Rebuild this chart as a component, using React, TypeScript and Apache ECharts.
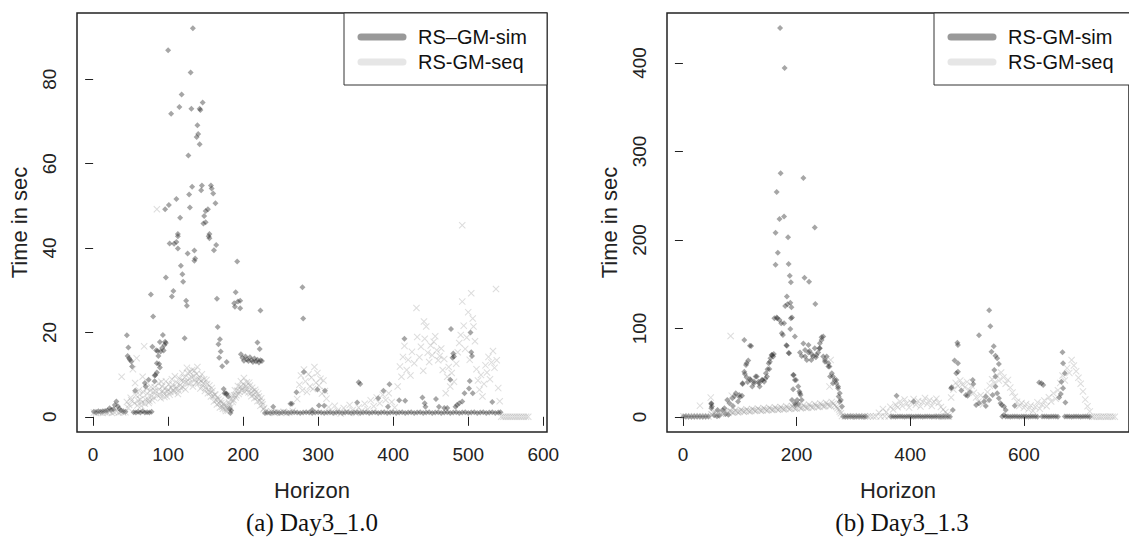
import React, { useEffect, useRef } from "react";
import * as echarts from "echarts";

// ---------------- DATA ----------------
const xTicksA = [0, 100, 200, 300, 400, 500, 600];
const yTicksA = [0, 20, 40, 60, 80];
const xTicksB = [0, 200, 400, 600];
const yTicksB = [0, 100, 200, 300, 400];

const captionA = "(a) Day3_1.0";
const captionB = "(b) Day3_1.3";
const legendA = ["RS\u2013GM-sim", "RS-GM-seq"];
const legendB = ["RS-GM-sim", "RS-GM-seq"];

// Day3_1.0 — RS-GM-sim  [horizon, seconds]
const simA: [number, number][] = [
  [1,1.2],[4,1.1],[7,1.3],[10,1.2],[13,1.3],[16,1.4],[19,1.5],[22,2.0],[24,1.6],[27,1.8],[29,2.8],[31,3.6],[33,2.5],[35,1.9],[37,1.5],[40,1.3],[43,1.2],
  [45,19.3],[46,14.4],[47,16.4],[48,13.9],[49,13.5],[51,13.1],[52,11.9],
  [54,1.1],[56,6.2],[57,1.0],[60,1.2],[63,1.0],[66,1.3],[69,1.0],[69,8.0],[70,7.2],[72,1.1],[74,8.8],[75,1.0],[78,1.2],
  [77,29.0],[80,23.8],[79,16.6],[82,9.8],[82,8.4],[83,9.9],[84,15.8],[85,10.5],[85,12.7],[86,15.6],[87,14.4],[88,12.5],[89,11.7],[89,17.7],[90,15.5],[92,16.3],[93,19.4],[94,15.7],[95,17.0],[96,17.8],[97,17.5],[97,33.0],
  [96,49.2],[100,86.9],[101,50.2],[102,41.1],[104,71.8],[105,28.5],[107,29.8],[108,41.0],[111,41.4],[111,51.6],[113,42.8],[113,39.9],[113,43.3],[115,73.4],[116,47.2],[117,35.8],[118,76.4],[119,33.8],[120,32.0],[122,18.6],[124,27.5],[125,26.3],[126,38.7],[127,61.9],[128,52.7],[129,49.6],[130,81.6],[131,73.0],[132,54.5],[133,92.1],[135,39.4],[135,37.0],[136,37.5],[138,66.3],[139,69.1],[140,67.0],[142,73.0],[142,64.6],[143,72.7],[144,53.7],[145,54.8],[146,74.5],[147,45.8],[148,47.6],[150,48.8],[150,46.1],[153,49.2],[154,42.8],[155,42.3],[155,43.3],[157,54.8],[158,54.1],[160,52.9],[161,39.5],[163,50.6],[164,40.7],[165,28.0],[166,21.3],[167,17.2],[168,14.0],[169,18.4],[170,15.5],[172,12.0],[174,6.6],[175,5.6],[177,5.6],[178,13.0],[178,5.4],[180,4.8],[182,1.9],[183,0.9],[184,1.5],
  [188,26.9],[189,26.1],[190,29.5],[192,36.8],[193,27.3],[196,25.7],[196,27.5],[197,14.8],[199,14.0],[201,13.3],[203,14.3],[205,13.6],[207,13.2],[209,14.1],[211,13.4],[213,13.0],[215,13.8],[217,13.1],[219,13.5],[219,17.6],[221,12.9],[222,16.1],[223,25.2],[223,13.4],[225,13.2],[229,0.9],
  [232,1.0],[236,0.9],[240,2.4],[240,1.0],[244,1.1],[248,0.9],[252,1.0],[256,1.1],[260,0.9],[263,3.1],[264,1.0],[265,3.1],[268,1.1],[271,5.8],[272,1.0],[276,0.9],[279,30.7],[280,23.3],[281,10.6],[280,1.0],[284,1.1],[288,1.0],[292,1.6],[292,0.9],[296,1.0],[299,6.5],[300,1.1],[301,2.7],[304,1.0],[308,2.6],[309,6.2],[308,0.9],[312,1.0],[316,1.1],[320,0.9],[324,1.0],[328,1.1],[332,0.9],[336,1.0],[340,1.1],[344,0.9],[348,1.0],[352,3.4],[352,1.1],[354,8.2],[356,7.8],[356,0.9],[360,1.0],[364,1.1],[368,0.9],[372,1.0],[376,1.1],[380,4.4],[380,0.9],[384,1.0],[387,6.2],[388,1.1],[392,0.9],[393,2.4],[395,7.7],[396,1.0],[400,1.1],[404,0.9],[408,3.9],[408,1.0],[412,1.1],[415,18.5],[416,3.8],[416,0.9],[420,1.0],[424,1.1],[428,0.9],[432,1.0],[436,1.1],[439,4.6],[440,0.9],[442,3.2],[443,2.4],[444,1.0],[448,1.1],[452,0.9],[456,1.0],[457,4.2],[460,1.1],[461,2.4],[464,0.9],[468,2.1],[468,1.0],[472,2.1],[472,1.1],[476,8.8],[476,0.9],[477,20.8],[479,14.0],[480,15.0],[481,14.3],[480,1.0],[483,2.4],[484,1.1],[485,2.8],[488,3.2],[488,0.9],[492,3.6],[492,1.0],[495,5.6],[496,1.1],[500,0.9],[501,6.7],[502,8.5],[503,20.0],[504,15.3],[505,14.4],[504,1.0],[506,5.6],[508,1.1],[512,0.9],[516,1.0],[520,1.1],[524,0.9],[528,1.0],[532,3.5],[532,1.1],[536,0.9],[540,1.0],[543,1.1],
];

// Day3_1.0 — RS-GM-seq
const seqA: [number, number][] = [
  [1,1.0],[4,0.9],[7,1.1],[10,1.0],[13,0.9],[16,1.1],[19,1.0],[22,1.2],[25,0.9],[28,1.1],[31,1.3],[34,1.0],[37,1.2],[38,9.5],[40,1.0],[43,1.1],
  [45,3.5],[48,2.8],[50,4.5],[53,11.3],[55,3.2],[56,8.0],[58,13.9],[60,3.8],[62,5.2],[64,2.6],[66,9.5],[68,16.7],[70,4.1],[72,5.5],[74,3.3],[76,6.2],[78,4.8],[80,5.9],[82,7.0],[85,49.2],[86,5.1],[88,6.5],[90,4.4],[92,7.2],[94,5.6],[96,6.8],[98,4.9],[100,6.4],[102,5.2],[104,6.9],[106,7.6],[108,5.8],[110,6.6],[112,8.1],[114,6.2],[116,7.5],[118,8.6],[120,7.0],[122,9.3],[124,8.2],[126,10.4],[128,9.1],[130,8.1],[132,11.1],[134,9.6],[136,8.8],[138,10.2],[140,7.9],[142,9.4],[144,8.5],[146,7.3],[148,8.9],[150,6.9],[152,7.8],[154,6.4],[156,5.7],[158,6.8],[160,4.9],[162,5.3],[164,3.9],[166,4.6],[168,3.2],[170,3.8],[172,2.4],[174,3.1],[176,1.8],[178,2.6],[180,1.5],[182,2.9],[184,4.2],[186,3.5],[188,5.1],[190,4.6],[192,6.2],[194,5.4],[196,7.1],[198,6.3],[200,7.7],[202,5.9],[204,7.3],[206,6.5],[208,8.1],[210,5.6],[212,6.9],[214,5.2],[216,6.4],[218,4.6],[220,5.5],[222,3.8],[224,4.4],[226,2.9],[228,2.1],
  [47,2.1],[51,3.9],[57,5.1],[59,2.7],[61,6.3],[63,4.1],[65,3.4],[67,5.8],[69,3.1],[71,6.8],[73,4.2],[75,3.7],[77,7.1],[79,3.9],[81,4.6],[83,6.1],[87,7.9],[89,5.2],[91,8.3],[93,6.1],[95,4.7],[97,8.4],[99,6.0],[101,7.7],[103,5.9],[105,8.9],[107,6.3],[109,9.6],[111,7.1],[113,5.4],[115,9.1],[117,6.8],[119,10.3],[121,8.4],[123,6.5],[125,11.6],[127,7.9],[129,10.6],[131,9.4],[133,7.2],[135,10.9],[137,8.1],[139,11.8],[141,8.9],[143,6.7],[145,10.1],[147,8.0],[149,6.1],[151,8.7],[153,5.6],[155,7.4],[157,4.8],[159,6.1],[161,3.6],[163,5.2],[165,2.9],[167,4.1],[169,2.2],[171,3.3],[173,1.9],[175,2.7],[177,1.4],[179,2.0],[181,3.4],[183,2.2],[185,5.0],[187,4.0],[189,6.3],[191,5.1],[193,7.3],[195,6.0],[197,8.4],[199,6.8],[201,9.2],[203,6.6],[205,8.2],[207,5.8],[209,7.4],[211,4.9],[213,6.1],[215,4.4],[217,5.9],[219,3.7],[221,4.8],[223,2.6],[225,3.5],[227,1.8],
  [230,1.3],[234,1.0],[238,1.2],[242,0.9],[246,1.1],[250,1.0],[254,1.2],[258,0.9],[262,1.1],[266,1.4],
  [272,4.2],[275,7.6],[277,9.8],[279,6.3],[281,11.2],[283,8.4],[285,5.9],[287,10.1],[289,7.2],[291,9.3],[293,6.6],[295,11.8],[297,8.1],[299,10.4],[301,7.4],[303,9.0],[305,5.5],[307,8.6],[309,6.1],[311,4.3],
  [314,2.3],[318,1.1],[322,2.6],[326,1.5],[330,0.8],[334,2.1],[338,1.2],[342,2.8],[346,1.6],[350,0.9],[354,2.2],[358,1.4],[362,3.1],[366,1.8],[370,3.9],[374,2.5],[378,4.6],[382,3.2],[386,5.2],[390,4.0],[394,5.6],[398,3.5],[402,2.2],
  [406,7.2],[409,11.9],[411,9.5],[413,14.2],[415,16.8],[418,11.1],[420,13.5],[423,9.8],[425,15.4],[428,12.7],[431,25.8],[432,18.9],[435,14.1],[437,16.6],[440,10.9],[441,22.6],[442,18.5],[444,21.4],[446,15.2],[448,13.0],[450,16.9],[452,14.6],[454,17.8],[456,19.1],[458,15.8],[460,13.4],[462,14.4],[464,16.2],[466,11.1],[468,13.7],[470,5.6],[472,9.5],[474,11.8],[476,7.2],[478,10.4],[481,8.3],[484,12.6],[486,15.3],[488,17.5],[490,19.4],[492,27.3],[492,45.4],[494,21.6],[496,16.1],[498,18.8],[500,24.8],[502,13.5],[504,29.3],[506,23.3],[507,21.4],[509,17.9],[511,11.3],[513,8.6],[515,6.4],[517,9.9],[519,4.8],[521,7.8],[523,12.2],[525,10.5],[527,14.2],[529,8.9],[531,12.9],[533,15.6],[535,11.6],[537,30.3],[538,13.4],[540,6.8],[542,3.7],
  [544,0],[547,0],[550,0],[553,0],[556,0],[559,0],[562,0],[565,0],[568,0],[571,0],[574,0],[577,0],[580,0],
];

// Day3_1.3 — RS-GM-sim
const simB: [number, number][] = [
  [1,0.5],[5,0.4],[10,0.6],[15,0.3],[20,0.5],[25,0.4],[30,0.6],[35,0.3],[40,0.5],[45,0.4],
  [50,15.5],[50,14.7],[51,11.7],[50,9.8],[55,2.0],[60,0.8],[61,7.9],[64,1.4],[70,7.6],[73,9.8],[75,3.3],[78,19.2],[80,2.5],[82,15.5],[87,21.1],[88,12.5],[91,23.8],[93,26.8],[97,17.4],[99,24.9],[100,22.2],[104,24.1],[105,38.0],[105,37.3],[108,51.2],[108,87.0],[109,48.6],[111,58.8],[112,60.6],[112,44.8],[114,39.6],[115,63.7],[118,43.0],[118,80.6],[119,41.8],[120,80.2],[122,34.3],[125,40.0],[125,38.0],[128,45.6],[130,45.6],[133,39.9],[134,38.0],[135,34.3],[139,41.8],[140,41.8],[143,39.9],[145,43.3],[146,49.4],[148,45.6],[149,53.9],[151,60.6],[152,54.2],[153,62.5],[154,66.3],[156,70.0],[157,70.0],[159,68.2],[160,71.2],[161,111.5],
  [163,208.3],[163,172.1],[165,254.3],[165,112.3],[166,111.5],[167,185.7],[170,223.8],[170,109.6],[171,439.6],[172,275.4],[173,105.8],[174,94.6],[176,92.7],[178,226.4],[178,105.9],[179,394.4],[180,125.4],[182,81.0],[183,136.0],[183,80.6],[184,127.5],[185,203.0],[186,172.9],[186,72.3],[187,72.0],[188,159.7],[189,129.2],[189,99.5],[190,152.2],[190,111.5],[191,124.0],[192,112.3],[192,19.2],[194,47.5],[194,31.3],[195,47.5],[197,41.8],[197,90.8],[197,15.5],[198,13.6],[199,41.8],[201,19.2],[203,34.3],[203,14.7],[205,28.7],[206,26.8],[206,72.9],[207,24.9],[209,69.0],[209,19.2],[212,270.1],[212,83.0],[214,157.4],[215,68.2],[215,75.7],[218,64.4],[221,81.4],[221,72.9],[222,152.9],[223,74.6],[226,64.4],[227,70.8],[229,68.2],[232,214.0],[232,77.6],[233,127.7],[234,67.4],[235,70.1],[238,72.9],[240,77.6],[241,83.3],[241,77.6],[244,90.0],[244,87.0],[247,68.2],[247,90.8],[250,62.5],[250,64.4],[253,68.2],[256,56.9],[256,60.7],[258,56.9],[259,45.6],[262,49.4],[264,45.6],[264,38.1],[267,41.8],[270,41.8],[270,38.1],[273,32.4],[273,34.3],[274,23.0],[276,17.3],[276,26.8],[278,19.3],[280,11.8],
  [282,0.5],[286,0.3],[290,0.6],[294,0.4],[298,0.5],[302,0.3],[306,0.6],[310,0.4],[314,0.5],[318,0.3],[322,0.5],
  [366,0.4],[370,0.6],[374,0.3],[376,24.1],[378,0.5],[382,0.4],[386,0.6],[390,0.3],[394,0.5],[398,0.4],[402,0.6],[406,17.4],[406,0.3],[410,0.5],[414,0.4],[418,0.6],[422,0.3],[426,0.5],[430,0.4],[434,0.6],[438,0.3],[442,0.5],[446,0.4],[450,0.6],[454,0.3],[458,0.5],[462,0.4],[466,0.6],[470,0.3],
  [472,32.4],[473,33.5],[475,7.9],[478,63.7],[481,49.4],[483,84.0],[484,81.4],[484,60.7],[484,51.2],[490,30.0],[498,24.9],[501,24.1],[505,28.0],[510,41.8],[511,37.3],[516,13.6],[521,15.5],[521,92.3],[530,17.4],[533,12.5],[533,23.0],[539,120.5],[539,19.2],[541,102.5],[543,73.8],[545,24.9],[547,79.9],[548,53.1],[550,69.3],[550,45.6],[550,34.3],[553,66.3],[553,26.8],[556,59.9],[556,21.1],[559,15.5],[561,13.6],[562,0.4],[565,11.7],[565,2.3],[568,8.0],[584,12.8],
  [568,0.4],[572,0.5],[576,0.3],[580,0.6],[584,0.4],[588,0.5],[592,0.3],[596,0.6],[600,0.4],[604,0.5],[608,0.3],[612,0.6],[616,0.4],[620,0.5],[624,0.3],[627,38.8],[631,38.1],[634,36.2],[632,0.6],[636,0.4],[640,0.5],[644,0.3],[648,0.6],[652,0.4],[656,0.5],[660,0.3],[662,22.0],[665,26.0],[666,39.9],[668,73.1],[669,60.7],[669,32.4],[672,49.4],[673,16.2],[672,0.5],[676,0.4],[680,0.6],[684,0.3],[688,0.5],[692,0.4],[696,0.6],[700,0.3],[704,0.5],[708,0.4],[712,0.6],[716,0.3],
];

// Day3_1.3 — RS-GM-seq
const seqB: [number, number][] = [
  [1,0.8],[5,0.6],[10,0.9],[15,0.7],[20,0.8],[25,0.6],[30,12.8],[30,0.9],[35,0.7],[40,0.8],[45,0.6],[49,21.9],
  [50,3.2],[55,4.1],[60,3.5],[65,5.0],[70,4.2],[75,5.6],[80,4.6],[84,91.5],[85,6.1],[86,24.1],[90,5.3],[95,6.2],[100,5.8],[105,7.0],[110,6.4],[115,7.1],[120,6.6],[125,7.8],[130,7.2],[135,8.0],[140,7.3],[145,8.6],[150,7.9],[155,8.8],[160,8.1],[165,9.4],[170,8.7],[175,9.6],[180,8.9],[185,10.3],[190,9.5],[195,10.6],[200,9.6],[205,11.2],[210,10.3],[215,11.5],[220,10.4],[225,12.2],[230,11.1],[235,12.7],[240,11.6],[245,13.4],[250,12.2],[255,14.1],[258,34.3],[260,64.4],[260,12.8],[265,15.2],[270,11.5],[275,8.4],[278,4.2],
  [52,2.4],[57,5.2],[62,4.4],[67,3.6],[72,6.1],[77,4.0],[82,7.0],[87,5.1],[92,7.3],[97,5.0],[102,8.1],[107,6.0],[112,8.6],[117,6.2],[122,9.0],[127,6.8],[132,9.5],[137,7.1],[142,10.1],[147,7.4],[152,10.4],[157,7.9],[162,11.0],[167,8.2],[172,11.3],[177,8.4],[182,12.0],[187,8.9],[192,12.4],[197,9.2],[202,12.9],[207,9.8],[212,13.2],[217,10.1],[222,14.0],[227,10.6],[232,14.6],[237,11.2],[242,15.3],[247,11.9],[252,16.1],[257,12.5],[262,17.0],[267,13.2],[272,9.8],[276,6.1],
  [280,1.0],[285,0.5],[290,0.8],[295,0.6],[300,0.9],[305,0.5],[310,0.7],[315,0.6],[320,0.9],[325,0.5],[330,0.8],[335,0.6],[340,0.7],[345,4.8],[348,0.5],[352,8.9],[355,0.8],[358,5.6],[362,0.6],[365,11.4],
  [370,8.5],[374,14.0],[378,11.0],[382,17.5],[386,12.3],[390,19.8],[394,15.1],[398,10.6],[402,16.4],[406,20.2],[410,13.8],[414,18.1],[418,11.9],[422,16.9],[426,21.4],[430,14.6],[434,18.8],[438,12.4],[442,17.3],[446,20.5],[450,15.7],[454,11.2],[458,8.3],[462,5.6],[466,3.1],[450,0.5],[456,0.3],[462,0.6],[468,0.4],
  [472,22.0],[476,31.0],[480,38.5],[484,35.0],[488,41.2],[492,36.8],[496,33.4],[500,39.6],[504,30.1],[508,35.3],[512,27.4],[516,22.1],[520,17.3],[524,24.6],[528,14.2],
  [532,19.5],[536,28.1],[540,35.4],[544,42.6],[548,38.2],[552,46.8],[556,41.1],[560,50.3],[564,44.7],[568,37.6],[572,41.9],[576,33.2],[580,27.5],[584,22.8],[588,17.1],[592,12.4],[596,15.8],
  [600,10.3],[604,14.7],[608,8.6],[612,12.9],[616,6.8],[620,11.2],[624,16.5],[628,9.4],[632,13.8],[636,18.6],[640,12.1],[644,22.3],[648,17.4],[652,26.8],[656,20.5],
  [660,30.2],[664,38.5],[668,46.9],[672,41.3],[676,55.2],[680,49.8],[684,64.4],[688,58.1],[692,51.6],[696,44.3],[700,37.5],[704,28.9],[708,19.6],[712,12.1],[716,6.3],
  [720,0.3],[724,0.2],[728,0.4],[732,0.3],[736,0.2],[740,0.4],[744,0.3],[748,0.2],[752,0.4],[756,0.3],[760,0.2],
];

// ---------------- STYLE ----------------
const SANS = '"Liberation Sans", Arial, Helvetica, sans-serif';
const SERIF = '"Liberation Serif", "Times New Roman", serif';
const CROSS = "path://M0,1L1,0L5,4L9,0L10,1L6,5L10,9L9,10L5,6L1,10L0,9L4,5Z";
const SIM_COLOR = "rgba(40,40,40,0.52)";
const SEQ_COLOR = "rgba(150,150,150,0.42)";

function xAxisFor(idx: number, min: number, max: number, ticks: number[]) {
  return {
    type: "value", gridIndex: idx, min, max,
    axisLine: { show: false },
    splitLine: { show: false },
    axisTick: { show: true, length: 9, customValues: ticks, lineStyle: { color: "#222", width: 1 } },
    axisLabel: { customValues: ticks, fontSize: 19, color: "#222", fontFamily: SANS, margin: 13 },
    name: "Horizon", nameLocation: "middle", nameGap: 47,
    nameTextStyle: { fontSize: 22, color: "#222", fontFamily: SANS },
  };
}
function yAxisFor(idx: number, min: number, max: number, ticks: number[]) {
  return {
    type: "value", gridIndex: idx, min, max,
    axisLine: { show: false },
    splitLine: { show: false },
    axisTick: { show: true, length: 8, customValues: ticks, lineStyle: { color: "#222", width: 1 } },
    axisLabel: { customValues: ticks, fontSize: 19, color: "#222", fontFamily: SANS, margin: 18, rotate: 90 },
    name: "Time in sec", nameLocation: "middle", nameGap: 47, nameRotate: 90,
    nameTextStyle: { fontSize: 22, color: "#222", fontFamily: SANS },
  };
}

function legendGraphic(x0: number, x1: number, labels: string[]) {
  return [
    { type: "rect", shape: { x: x0, y: 13, width: x1 - x0, height: 72 }, style: { fill: "#fff", stroke: "#333", lineWidth: 1 }, z: 10 },
    { type: "line", shape: { x1: x0 + 17, y1: 37, x2: x0 + 59, y2: 37 }, style: { stroke: "#999", lineWidth: 7, lineCap: "round" }, z: 11 },
    { type: "line", shape: { x1: x0 + 17, y1: 62, x2: x0 + 59, y2: 62 }, style: { stroke: "#e6e6e6", lineWidth: 7, lineCap: "round" }, z: 11 },
    { type: "text", x: x0 + 74, y: 37, style: { text: labels[0], font: `20px ${SANS}`, fill: "#111", verticalAlign: "middle" }, z: 11 },
    { type: "text", x: x0 + 74, y: 62, style: { text: labels[1], font: `20px ${SANS}`, fill: "#111", verticalAlign: "middle" }, z: 11 },
  ];
}

export default function App() {
  const ref = useRef<HTMLDivElement>(null);
  useEffect(() => {
    if (!ref.current) return;
    const chart = echarts.init(ref.current, undefined, { renderer: "svg" });
    chart.setOption({
      animation: false,
      backgroundColor: "#fff",
      grid: [
        { left: 77, top: 13, width: 470, height: 419, show: true, borderColor: "#222", borderWidth: 1.5 },
        { left: 667, top: 13, width: 470, height: 419, show: true, borderColor: "#222", borderWidth: 1.5 },
      ],
      xAxis: [xAxisFor(0, -21.5, 605, xTicksA), xAxisFor(1, -28, 785, xTicksB)],
      yAxis: [yAxisFor(0, -3.6, 95.7, yTicksA), yAxisFor(1, -17, 456.5, yTicksB)],
      series: [
        { type: "scatter", name: "simA", xAxisIndex: 0, yAxisIndex: 0, data: simA, symbol: "diamond", symbolSize: 6, itemStyle: { color: SIM_COLOR } },
        { type: "scatter", name: "seqA", xAxisIndex: 0, yAxisIndex: 0, data: seqA, symbol: CROSS, symbolSize: 7, itemStyle: { color: SEQ_COLOR } },
        { type: "scatter", name: "simB", xAxisIndex: 1, yAxisIndex: 1, data: simB, symbol: "diamond", symbolSize: 6, itemStyle: { color: SIM_COLOR } },
        { type: "scatter", name: "seqB", xAxisIndex: 1, yAxisIndex: 1, data: seqB, symbol: CROSS, symbolSize: 7, itemStyle: { color: SEQ_COLOR } },
      ],
      graphic: [
        ...legendGraphic(344, 547, legendA),
        ...legendGraphic(934, 1137, legendB),
        { type: "text", x: 312, y: 522, style: { text: captionA, font: `25px ${SERIF}`, fill: "#111", align: "center", verticalAlign: "middle" } },
        { type: "text", x: 902, y: 522, style: { text: captionB, font: `25px ${SERIF}`, fill: "#111", align: "center", verticalAlign: "middle" } },
      ],
    });
    return () => chart.dispose();
  }, []);
  return <div ref={ref} style={{ position: "absolute", left: 0, top: 0, width: 1129, height: 537 }} />;
}
